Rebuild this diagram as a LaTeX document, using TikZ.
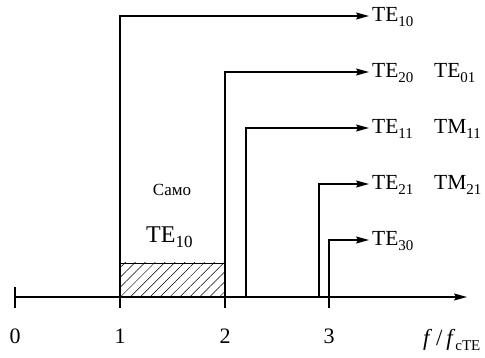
\documentclass[tikz,border=0pt]{standalone}
\usepackage{fontspec}
\setmainfont{Liberation Serif}
\usetikzlibrary{arrows.meta,patterns.meta}
\newcommand{\mysub}[2][15]{\raisebox{-5pt}{\fontsize{#1}{#1}\selectfont #2}}
\begin{document}
\begin{tikzpicture}[x=1pt,y=-1pt,
  ln/.style={line width=1.3pt},
  arr/.style={line width=1.3pt,-{Stealth[length=13pt,width=7pt,inset=2pt]}},
  lab/.style={anchor=base west,inner sep=0pt,font=\fontsize{21.5}{24}\selectfont},
  num/.style={anchor=base,inner sep=0pt,font=\fontsize{22}{24}\selectfont}]
\useasboundingbox (0,0) rectangle (485,358);
% axis
\coordinate (a0) at (15,297);
\coordinate (a1) at (120,297);
\coordinate (a2) at (225,297);
\coordinate (a3) at (329,297);
\coordinate (b22) at (246,297);
\coordinate (b29) at (319,297);
\coordinate (aend) at (467,297);
% hatched region
\fill[pattern={Lines[angle=45,distance=7pt,line width=0.5pt]}] (120,263) rectangle (225,297);
\draw[line width=0.8pt] (120,263) -- (225,263);
\draw[arr] (a0) -- (aend);
\draw[ln] (15,287) -- (15,308);
\draw[ln] (a1) -- (120,308);
\draw[ln] (a2) -- (225,308);
\draw[ln] (a3) -- (329,308);
% labels
\node[lab] (l1) at (372,22) {TE\mysub{10}};
\node[lab] (l2) at (372,78) {TE\mysub{20}};
\node[lab] (l2b) at (434,78) {TE\mysub{01}};
\node[lab] (l3) at (372,134) {TE\mysub{11}};
\node[lab] (l3b) at (434,134) {TM\mysub{11}};
\node[lab] (l4) at (372,190) {TE\mysub{21}};
\node[lab] (l4b) at (434,190) {TM\mysub{21}};
\node[lab] (l5) at (372,246) {TE\mysub{30}};
% connectors
\coordinate (e1) at (369,16);
\coordinate (e2) at (369,72);
\coordinate (e3) at (369,128);
\coordinate (e4) at (369,184);
\coordinate (e5) at (369,240);
\draw[arr] (a1) |- (e1);
\draw[arr] (a2) |- (e2);
\draw[arr] (b22) |- (e3);
\draw[arr] (b29) |- (e4);
\draw[arr] (a3) |- (e5);
% middle texts
\node[anchor=base,inner sep=0pt,font=\fontsize{17}{18}\selectfont] (samo) at (172,196) {Само};
\node[anchor=base west,inner sep=0pt,font=\fontsize{24}{26}\selectfont] (mid) at (146,243) {TE\mysub[17]{10}};
% axis numbers
\node[num] (n0) at (15,343) {0};
\node[num] (n1) at (120,343) {1};
\node[num] (n2) at (225,343) {2};
\node[num] (n3) at (329,343) {3};
\node[anchor=base west,inner sep=0pt,font=\fontsize{23}{24}\selectfont] (fx) at (423,345) {\textit{f}\,/\,\textit{f}\mysub[15]{cTE}};
\end{tikzpicture}
\end{document}
